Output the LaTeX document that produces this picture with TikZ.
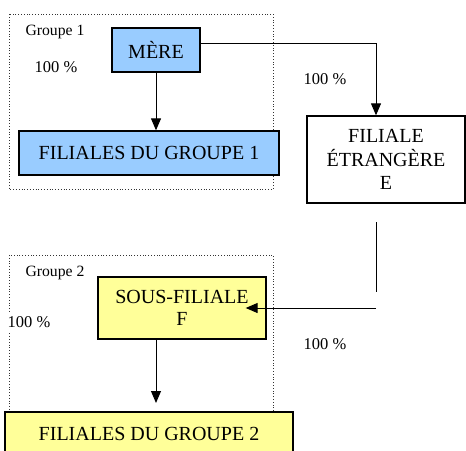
\documentclass[tikz,border=0pt]{standalone}
\usepackage{fontspec}
\setmainfont{Liberation Serif}
\usetikzlibrary{arrows.meta}
\definecolor{boxblue}{HTML}{99CCFF}
\definecolor{boxyellow}{HTML}{FFFF99}
\tikzset{
  entity/.style={draw=black, line width=1.3pt, inner sep=0pt, align=center,
    font=\fontsize{20}{24}\selectfont},
  grouplabel/.style={inner sep=0pt, font=\fontsize{15.7}{18}\selectfont},
  pct/.style={inner sep=1pt, font=\fontsize{16.5}{19}\selectfont},
  groupframe/.style={draw=black!80, line width=0.8pt, dotted},
  link/.style={draw=black, line width=1pt},
  arrowlink/.style={link, -{Triangle[width=10pt,length=12pt]}}
}
\begin{document}
\begin{tikzpicture}[x=1pt,y=-1pt]
  \useasboundingbox (0,0) rectangle (466,450);
  \clip (0,0) rectangle (466,450);

  % group frames
  \draw[groupframe] (9,14) rectangle (273,189);
  \draw[groupframe] (9,255) rectangle (273,411);

  % group 1
  \node[grouplabel] (g1) at (55,32) {Groupe 1};
  \node[pct] (p1) at (56,67) {100 \%};
  \node[entity, fill=boxblue, minimum width=88pt, minimum height=44pt] (mere) at (156,50) {MÈRE};
  \node[entity, fill=boxblue, minimum width=260pt, minimum height=44pt] (fil1) at (149,153) {FILIALES DU GROUPE 1};

  % foreign subsidiary
  \node[pct] (p2) at (325,79) {100 \%};
  \node[entity, fill=white, minimum width=158pt, minimum height=87pt,
        font=\fontsize{20}{23.5}\selectfont] (file) at (386,159.5) {FILIALE\\ÉTRANGÈRE\\E};

  % group 2
  \node[grouplabel] (g2) at (55,273) {Groupe 2};
  \node[pct, fill=white, inner ysep=4pt] (p3) at (29,322) {100 \%};
  \node[entity, fill=boxyellow, minimum width=168pt, minimum height=62pt,
        font=\fontsize{20}{22}\selectfont] (sous) at (182,308) {SOUS-FILIALE\\F};
  \node[entity, fill=boxyellow, minimum width=288pt, minimum height=44pt] (fil2) at (149,434) {FILIALES DU GROUPE 2};
  \node[pct] (p4) at (325,344) {100 \%};

  % connectors
  \draw[arrowlink] (mere.south) -- (mere.south |- fil1.north);
  \draw[arrowlink] ([yshift=7pt]mere.east) -| ([xshift=-10pt]file.north);

  \coordinate (d1) at (376,222);
  \coordinate (d2) at (376,292);
  \coordinate (d3) at (376,308);
  \draw[link] (d1) -- (d2);
  \draw[arrowlink] (d3) -- ([xshift=-21pt]sous.east);

  \coordinate (a2) at (156,403);
  \draw[arrowlink] (sous.south -| a2) -- (a2);
\end{tikzpicture}
\end{document}
